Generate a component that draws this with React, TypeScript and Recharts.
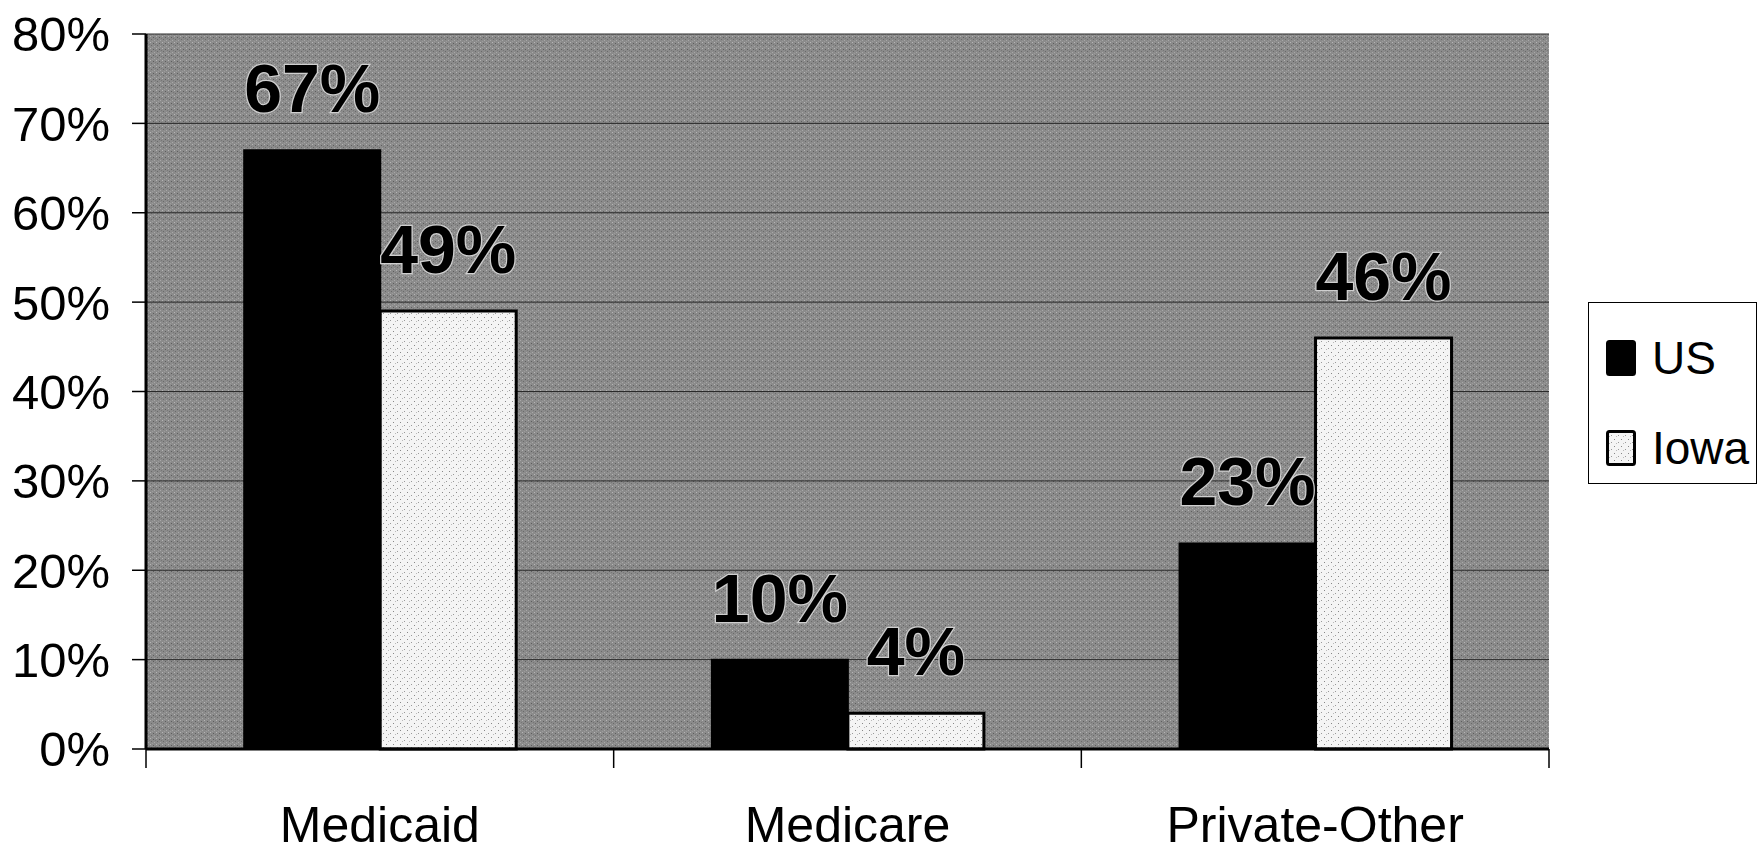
import { BarChart, Bar, XAxis, YAxis, CartesianGrid, Legend, LabelList } from 'recharts';

const categories = ['Medicaid', 'Medicare', 'Private-Other'];
const usValues = [67, 10, 23];
const iowaValues = [49, 4, 46];
const yTicks = [0, 10, 20, 30, 40, 50, 60, 70, 80];
const seriesOrder = ['us', 'iowa'];

const data = categories.map((name, i) => ({ name, us: usValues[i], iowa: iowaValues[i] }));

const FONT = '"Liberation Sans", Arial, Helvetica, sans-serif';
const PLOT_LEFT = 146;
const PLOT_RIGHT = 1549;
const BAND = (PLOT_RIGHT - PLOT_LEFT) / categories.length;

function CategoryTick(props: any) {
  const { x, y, payload, index } = props;
  const half = BAND / 2;
  return (
    <g>
      <line x1={x - half} x2={x - half} y1={y} y2={y + 19} stroke="#000" strokeWidth={1.5} />
      {index === categories.length - 1 && (
        <line x1={x + half} x2={x + half} y1={y} y2={y + 19} stroke="#000" strokeWidth={1.5} />
      )}
      <text x={x} y={y + 93} textAnchor="middle" fontSize={50} fontFamily={FONT} fill="#000">
        {payload.value}
      </text>
    </g>
  );
}

function LegendBox(props: any) {
  const items = [...(props.payload || [])].sort(
    (a: any, b: any) => seriesOrder.indexOf(a.dataKey) - seriesOrder.indexOf(b.dataKey)
  );
  return (
    <div
      style={{
        width: 169,
        height: 182,
        border: '1.5px solid #000',
        background: '#fff',
        boxSizing: 'border-box',
        fontFamily: FONT,
        fontSize: 46,
        color: '#000',
        paddingTop: 22,
        paddingLeft: 17,
      }}
    >
      {items.map((item: any) => (
        <div key={item.value} style={{ display: 'flex', alignItems: 'center', height: 66, marginBottom: 24 }}>
          <svg width={30} height={36} style={{ marginRight: 16 }}>
            <rect
              x={1.5}
              y={1.5}
              width={27}
              height={33}
              rx={2}
              fill={item.dataKey === 'us' ? '#000' : 'url(#stipple)'}
              stroke="#000"
              strokeWidth={3}
            />
          </svg>
          <span>{item.value}</span>
        </div>
      ))}
    </div>
  );
}

export default function App() {
  return (
    <div style={{ position: 'absolute', left: 0, top: 0, width: 1763, height: 854, background: '#fff' }}>
      <BarChart
        width={1763}
        height={854}
        data={data}
        margin={{ top: 34, right: 214, left: 0, bottom: 0 }}
        barCategoryGap="21%"
        barGap={0}
      >
        <defs>
          <pattern id="bgTexture" width="6" height="6" patternUnits="userSpaceOnUse">
            <rect width="6" height="6" fill="#8b8b8b" />
            <rect x="0" y="0" width="1" height="1" fill="#b5b5b5" />
            <rect x="3" y="1" width="1" height="1" fill="#5e5e5e" />
            <rect x="1" y="3" width="1" height="1" fill="#6a6a6a" />
            <rect x="4" y="4" width="1" height="1" fill="#a8a8a8" />
            <rect x="2" y="5" width="1" height="1" fill="#9c9c9c" />
            <rect x="5" y="2" width="1" height="1" fill="#777" />
          </pattern>
          <pattern id="stipple" width="7" height="7" patternUnits="userSpaceOnUse">
            <rect width="7" height="7" fill="#f4f4f4" />
            <rect x="1" y="2" width="1" height="1" fill="#888" />
            <rect x="5" y="5" width="1" height="1" fill="#999" />
            <rect x="3" y="6" width="1" height="1" fill="#bbb" />
          </pattern>
        </defs>
        <CartesianGrid
          vertical={false}
          stroke="#2a2a2a"
          strokeWidth={1}
          fill="url(#bgTexture)"
          fillOpacity={1}
          horizontalValues={yTicks}
        />
        <XAxis
          dataKey="name"
          height={105}
          axisLine={{ stroke: '#000', strokeWidth: 3 }}
          tickLine={false}
          tickSize={0}
          tickMargin={0}
          tick={<CategoryTick />}
          interval={0}
        />
        <XAxis xAxisId="top" dataKey="name" orientation="top" height={0} tick={false} tickLine={false} axisLine={{ stroke: '#000', strokeWidth: 2 }} />
        <YAxis
          width={PLOT_LEFT}
          domain={[0, 80]}
          ticks={yTicks}
          tickFormatter={(v: number) => `${v}%`}
          axisLine={{ stroke: '#000', strokeWidth: 3 }}
          tickLine={{ stroke: '#000', strokeWidth: 1.5 }}
          tickSize={14}
          tickMargin={22}
          tick={{ fill: '#000', fontSize: 49, fontFamily: FONT }}
          interval={0}
        />
        <YAxis yAxisId="right" orientation="right" width={0} domain={[0, 80]} tick={false} tickLine={false} axisLine={{ stroke: '#000', strokeWidth: 2 }} />
        <Legend
          layout="vertical"
          align="center"
          verticalAlign="middle"
          content={<LegendBox />}
          wrapperStyle={{ left: 1588, top: 302, width: 169, height: 182 }}
        />
        <Bar dataKey="us" name="US" fill="#000" stroke="#000" strokeWidth={2} isAnimationActive={false}>
          <LabelList
            dataKey="us"
            position="top"
            offset={38}
            formatter={(v: any) => `${v}%`}
            style={{ fontSize: 68, fontWeight: 'bold', fontFamily: FONT, fill: '#000', stroke: '#cfcfcf', strokeWidth: 2.5, paintOrder: 'stroke' }}
          />
        </Bar>
        <Bar dataKey="iowa" name="Iowa" fill="url(#stipple)" stroke="#000" strokeWidth={3} isAnimationActive={false}>
          <LabelList
            dataKey="iowa"
            position="top"
            offset={38}
            formatter={(v: any) => `${v}%`}
            style={{ fontSize: 68, fontWeight: 'bold', fontFamily: FONT, fill: '#000', stroke: '#cfcfcf', strokeWidth: 2.5, paintOrder: 'stroke' }}
          />
        </Bar>
      </BarChart>
    </div>
  );
}
